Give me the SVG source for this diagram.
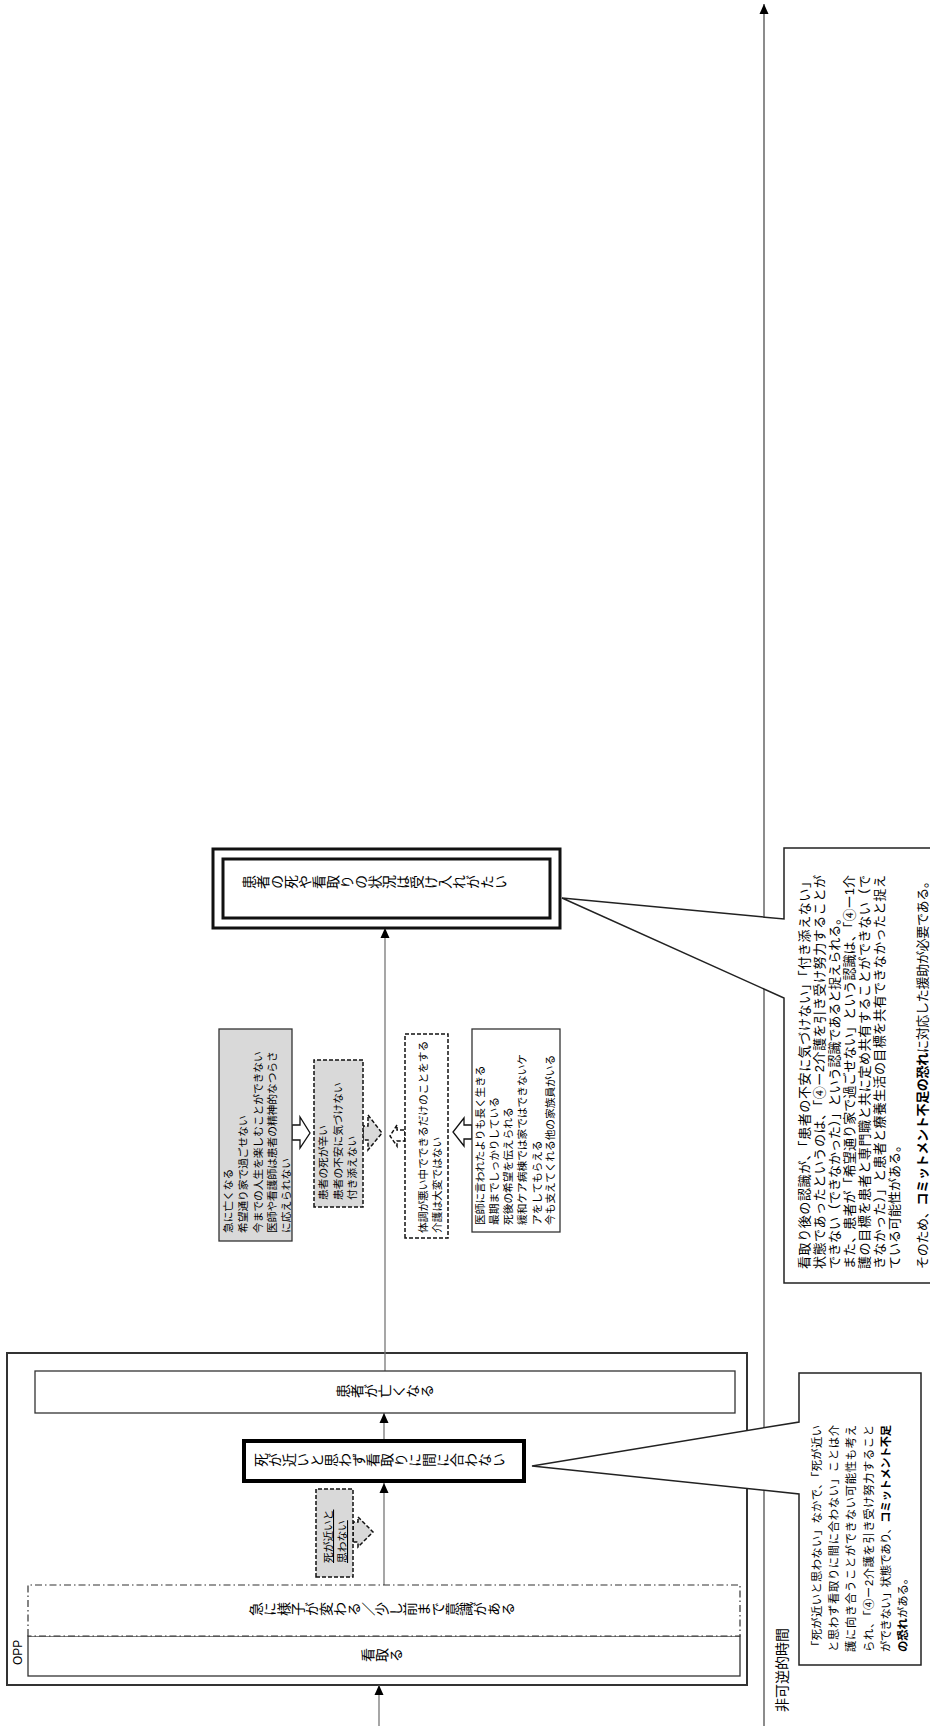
<svg xmlns="http://www.w3.org/2000/svg" width="930" height="1726" viewBox="0 0 930 1726">
<style>
text{font-family:"Liberation Sans","Noto Sans CJK JP",sans-serif;fill:#000}
.box{fill:#fff;stroke:#333;stroke-width:1.3}
.gray{fill:#d9d9d9}
.dash{stroke:#111;stroke-width:1.5;stroke-dasharray:4 2}
.dashdot{fill:#fff;stroke:#333;stroke-width:1.2;stroke-dasharray:7 3 1.5 3}
.thick{fill:#fff;stroke:#000;stroke-width:4}
.dbl{fill:none;stroke:#111;stroke-width:3}
.v{writing-mode:vertical-rl;font-size:14px;text-anchor:middle}
.note{font-size:10.7px}
.c1{font-size:11.3px}
.c2{font-size:13px}
.bold{font-weight:bold}
.conn{stroke:#777;stroke-width:1.3;fill:none;marker-end:url(#ah)}
.callout{fill:#fff;stroke:#222;stroke-width:1.5}
.barrow{fill:#fff;stroke:#111;stroke-width:1.3}
</style>
<defs>
<marker id="ah" markerUnits="userSpaceOnUse" markerWidth="10" markerHeight="10" refX="10" refY="5" orient="auto"><path d="M0,0.5 L10,5 L0,9.5 Z" fill="#000"/></marker>
</defs>
<rect width="930" height="1726" fill="#fff"/>
<g transform="translate(0 1726) rotate(-90)">
  <g id="timeline">
    <line x1="0" y1="764" x2="1722" y2="764" stroke="#666" stroke-width="1.5" marker-end="url(#ah)"/>
    <text x="14" y="787" font-size="14">非可逆的時間</text>
  </g>
  <g id="opp">
    <rect x="41" y="7" width="332" height="740" fill="none" stroke="#333" stroke-width="2"/>
    <text x="61" y="22" font-size="12">OPP</text>
  </g>
  <g id="connectors">
    <line class="conn" x1="0" y1="379" x2="41" y2="379"/>
    <line class="conn" x1="141" y1="384" x2="243" y2="384"/>
    <line class="conn" x1="287" y1="384" x2="313" y2="384"/>
    <line class="conn" x1="355" y1="385" x2="798" y2="385"/>
  </g>
  <g id="node-mitoru">
    <rect class="box" x="50" y="28" width="40" height="712"/>
    <text class="v" x="70" y="382">看取る</text>
  </g>
  <g id="node-kyuni">
    <rect class="dashdot" x="90" y="28" width="51" height="712"/>
    <text class="v" x="116" y="382">急に様子が変わる／少し前まで意識がある</text>
  </g>
  <g id="node-shigachikai-omowanai">
    <polygon class="gray dash" points="184,353 204,353 204,358 209,358 194,373 179,358 184,358"/>
    <rect class="gray dash" x="149" y="316" width="88" height="37"/>
    <text class="note" x="163" y="332" text-decoration="underline">死が近いと</text>
    <text class="note" x="163" y="346" text-decoration="underline">思わない</text>
  </g>
  <g id="node-maniawanai">
    <rect class="thick" x="245" y="244" width="40" height="280"/>
    <text class="v" x="265" y="380">死が近いと思わず看取りに間に合わない</text>
  </g>
  <g id="node-nakunaru">
    <rect class="box" x="313" y="35" width="42" height="700"/>
    <text class="v" x="334" y="385">患者が亡くなる</text>
  </g>
  <g id="note-negative1">
    <polygon class="barrow" points="586,292 601,292 601,300 609,300 593,310 578,300 586,300"/>
    <rect class="box gray" x="485" y="219" width="212" height="73"/>
    <text class="note" x="493" y="232">急に亡くなる</text>
    <text class="note" x="493" y="247">希望通り家で過ごせない</text>
    <text class="note" x="493" y="262">今までの人生を楽しむことができない</text>
    <text class="note" x="493" y="276">医師や看護師は患者の精神的なつらさ</text>
    <text class="note" x="493" y="290">に応えられない</text>
  </g>
  <g id="note-negative2">
    <polygon class="gray dash" points="586,363 600,363 600,368 611,368 593,382 576,368 586,368"/>
    <rect class="gray dash" x="519" y="314" width="147" height="49"/>
    <text class="note" x="526" y="327">患者の死が辛い</text>
    <text class="note" x="526" y="342">患者の不安に気づけない</text>
    <text class="note" x="526" y="356">付き添えない</text>
  </g>
  <g id="note-positive1">
    <polygon class="dash" fill="#fff" points="585,405 596,405 596,397 601,397 590,390 580,397 585,397"/>
    <rect class="dash" fill="#fff" x="488" y="405" width="204" height="43"/>
    <text class="note" x="493" y="427">体調が悪い中でできるだけのことをする</text>
    <text class="note" x="493" y="441">介護は大変ではない</text>
  </g>
  <g id="note-positive2">
    <polygon class="barrow" points="587,472 601,472 601,464 608,464 594,453 580,464 587,464"/>
    <rect class="box" x="494" y="472" width="203" height="88"/>
    <text class="note" x="501" y="484">医師に言われたよりも長く生きる</text>
    <text class="note" x="501" y="498">最期までしっかりしている</text>
    <text class="note" x="501" y="512">死後の希望を伝えられる</text>
    <text class="note" x="501" y="526">緩和ケア病棟では家ではできないケ</text>
    <text class="note" x="501" y="541">アをしてもらえる</text>
    <text class="note" x="501" y="554">今も支えてくれる他の家族員がいる</text>
  </g>
  <g id="node-ukeiregatai">
    <rect x="798" y="213" width="79" height="347" fill="#fff" class="dbl"/>
    <rect x="808" y="223" width="59" height="327" class="dbl"/>
    <text class="v" x="843" y="242" style="text-anchor:start">患者の死や看取りの状況は受け入れがたい</text>
  </g>
  <g id="callout-1">
    <path class="callout" d="M61,799 L232,799 L260,532 L304,799 L353,799 L353,921 L61,921 Z"/>
    <text class="c1" x="74" y="821" textLength="227" lengthAdjust="spacing">「死が近いと思わない」なかで、「死が近い</text>
    <text class="c1" x="74" y="838" textLength="227" lengthAdjust="spacing">と思わず看取りに間に合わない」ことは介</text>
    <text class="c1" x="74" y="855" textLength="227" lengthAdjust="spacing">護に向き合うことができない可能性も考え</text>
    <text class="c1" x="74" y="873" textLength="227" lengthAdjust="spacing">られ、「④ー2介護を引き受け努力すること</text>
    <text class="c1" x="74" y="890" textLength="227" lengthAdjust="spacing">ができない」状態であり、<tspan class="bold">コミットメント不足</tspan></text>
    <text class="c1" x="74" y="907"><tspan class="bold">の恐れ</tspan>がある。</text>
  </g>
  <g id="callout-2">
    <path class="callout" d="M443,784 L728,784 L828,562 L807,784 L878,784 L878,945 L443,945 Z"/>
    <text class="c2" x="457" y="809" textLength="394" lengthAdjust="spacing">看取り後の認識が、「患者の不安に気づけない」「付き添えない」</text>
    <text class="c2" x="457" y="824" textLength="394" lengthAdjust="spacing">状態であったというのは、「④ー2介護を引き受け努力することが</text>
    <text class="c2" x="457" y="839">できない（できなかった）」という認識であると捉えられる。</text>
    <text class="c2" x="457" y="854" textLength="394" lengthAdjust="spacing">また、患者が「希望通り家で過ごせない」という認識は、「④ー1介</text>
    <text class="c2" x="457" y="869" textLength="394" lengthAdjust="spacing">護の目標を患者と専門職と共に定め共有することができない（で</text>
    <text class="c2" x="457" y="884" textLength="394" lengthAdjust="spacing">きなかった）」と患者と療養生活の目標を共有できなかったと捉え</text>
    <text class="c2" x="457" y="899">ている可能性がある。</text>
    <text class="c2" x="457" y="927" textLength="394" lengthAdjust="spacing">そのため、<tspan class="bold">コミットメント不足の恐れ</tspan>に対応した援助が必要である。</text>
  </g>
</g>
</svg>
